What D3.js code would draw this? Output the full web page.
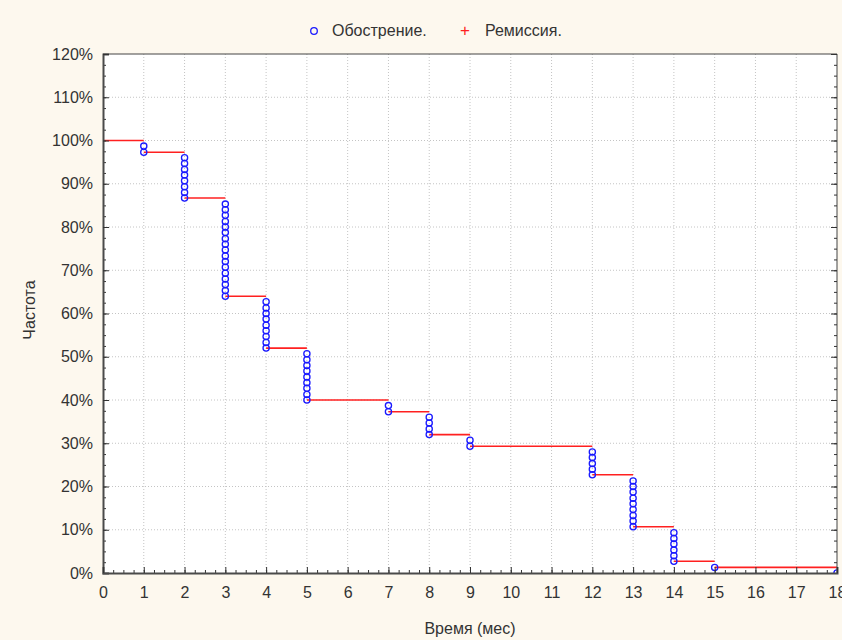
<!DOCTYPE html>
<html lang="ru">
<head>
<meta charset="UTF-8">
<title>Частота</title>
<script src="https://d3js.org/d3.v7.min.js"></script>
<style>
  body { margin: 0; background: #fdf8ee; }
  svg { display: block; font-family: "Liberation Sans", Arial, sans-serif; }
  .grid line { stroke: #c4c4c4; stroke-dasharray: 1,2; }
  .axis text { font-size: 16px; fill: #333; }
  .axis line { stroke: #333; }
</style>
</head>
<body>
<svg id="chart" width="842" height="640"></svg>
<script>
// step levels of the curve (%), the level holds from t to the next t
var stepTimes  = [0, 1, 2, 3, 4, 5, 7, 8, 9, 12, 13, 14, 15, 18]
var stepLevels = [100, 97.3, 86.7, 64.0, 52.0, 40.0, 37.3, 32.0, 29.3, 22.7, 10.7, 2.7, 1.3, 1.3]

// "Обострение." points, one circle each, grouped by time
var eventTimes = [1, 2, 3, 4, 5, 7, 8, 9, 12, 13, 14, 15, 18]
var eventValues = [
  [98.7, 97.3],
  [96.0, 94.7, 93.3, 92.0, 90.7, 89.3, 88.0, 86.7],
  [85.3, 84.0, 82.7, 81.3, 80.0, 78.7, 77.3, 76.0, 74.7, 73.3, 72.0, 70.7, 69.3, 68.0, 66.7, 65.3, 64.0],
  [62.7, 61.3, 60.0, 58.7, 57.3, 56.0, 54.7, 53.3, 52.0],
  [50.7, 49.3, 48.0, 46.7, 45.3, 44.0, 42.7, 41.3, 40.0],
  [38.7, 37.3],
  [36.0, 34.7, 33.3, 32.0],
  [30.7, 29.3],
  [28.0, 26.7, 25.3, 24.0, 22.7],
  [21.3, 20.0, 18.7, 17.3, 16.0, 14.7, 13.3, 12.0, 10.7],
  [9.3, 8.0, 6.7, 5.3, 4.0, 2.7],
  [1.3],
  [0]
]

var xTicks = d3.range(0, 19)
var yTicks = d3.range(0, 121, 10)
var legendLabels = ["Обострение.", "Ремиссия."]

var svg = d3.select("#chart")
var mLeft = 103, mTop = 54, w = 734, h = 519

var x = d3.scaleLinear().domain([0, 18]).range([0, w])
var y = d3.scaleLinear().domain([0, 120]).range([h, 0])

var g = svg.append("g").attr("transform", "translate(" + mLeft + "," + mTop + ")")

g.append("rect").attr("width", w).attr("height", h).attr("fill", "#fff")

// grid
var grid = g.append("g").attr("class", "grid")
grid.selectAll(".gx").data(xTicks.slice(1, -1)).enter().append("line")
    .attr("x1", d => x(d)).attr("x2", d => x(d)).attr("y1", 0).attr("y2", h)
grid.selectAll(".gy").data(yTicks.slice(1, -1)).enter().append("line")
    .attr("y1", d => y(d)).attr("y2", d => y(d)).attr("x1", 0).attr("x2", w)

// clip for marks
g.append("clipPath").attr("id", "clip").append("rect").attr("width", w).attr("height", h)
var plot = g.append("g").attr("clip-path", "url(#clip)")

// red step segments (horizontal only)
var segs = stepTimes.slice(0, -1).map((t, i) => [t, stepTimes[i + 1], stepLevels[i]])
plot.selectAll(".seg").data(segs).enter().append("line")
    .attr("x1", d => x(d[0])).attr("x2", d => x(d[1]))
    .attr("y1", d => y(d[2])).attr("y2", d => y(d[2]))
    .attr("stroke", "#ff2020").attr("stroke-width", 1.6)

// circles
var pts = []
eventTimes.forEach((t, i) => eventValues[i].forEach(v => pts.push([t, v])))
plot.selectAll("circle").data(pts).enter().append("circle")
    .attr("cx", d => x(d[0])).attr("cy", d => y(d[1])).attr("r", 3.1)
    .attr("fill", "none").attr("stroke", "#1a1aff").attr("stroke-width", 1.3)

// frame top/right
g.append("line").attr("x1", 0).attr("x2", w).attr("y1", 0).attr("y2", 0).attr("stroke", "#444")
g.append("line").attr("x1", w).attr("x2", w).attr("y1", 0).attr("y2", h).attr("stroke", "#444")

// minor ticks
var minorY = d3.range(0, 120.1, 2.5)
var minorX = d3.range(0, 18.01, 0.25)
g.append("g").attr("class", "axis")
    .call(d3.axisLeft(y).tickValues(minorY).tickSize(-3).tickFormat(""))
    .select(".domain").remove()
g.append("g").attr("class", "axis").attr("transform", "translate(" + w + ",0)")
    .call(d3.axisRight(y).tickValues(minorY).tickSize(-3).tickFormat(""))
    .select(".domain").remove()
g.append("g").attr("class", "axis").attr("transform", "translate(0," + h + ")")
    .call(d3.axisBottom(x).tickValues(minorX).tickSize(-3).tickFormat(""))
    .select(".domain").remove()

// major axes
var ax = g.append("g").attr("class", "axis")
    .call(d3.axisLeft(y).tickValues(yTicks).tickSize(-6).tickPadding(10).tickFormat(d => d + "%"))
ax.select(".domain").attr("stroke", "#4a4a4a").attr("stroke-width", 2)
g.append("g").attr("class", "axis").attr("transform", "translate(" + w + ",0)")
    .call(d3.axisRight(y).tickValues(yTicks).tickSize(-6).tickFormat(""))
    .select(".domain").remove()
var bx = g.append("g").attr("class", "axis").attr("transform", "translate(0," + h + ")")
    .call(d3.axisBottom(x).tickValues(xTicks).tickSize(-6).tickPadding(11))
bx.select(".domain").attr("stroke", "#4a4a4a").attr("stroke-width", 2)
bx.selectAll("text").attr("dy", "0.9em")

// axis titles
svg.append("text").attr("x", 470).attr("y", 634).attr("text-anchor", "middle")
    .attr("font-size", 16).attr("fill", "#333").text("Время (мес)")
svg.append("text").attr("transform", "translate(35,310) rotate(-90)").attr("text-anchor", "middle")
    .attr("font-size", 16).attr("fill", "#333").text("Частота")

// legend
var lg = svg.append("g")
lg.append("circle").attr("cx", 314).attr("cy", 31).attr("r", 3.3)
    .attr("fill", "none").attr("stroke", "#1a1aff").attr("stroke-width", 1.3)
lg.append("text").attr("x", 332).attr("y", 36).attr("font-size", 16).attr("fill", "#333").text(legendLabels[0])
lg.append("text").attr("x", 465).attr("y", 36).attr("text-anchor", "middle")
    .attr("font-size", 17).attr("fill", "#ff2020").text("+")
lg.append("text").attr("x", 485).attr("y", 36).attr("font-size", 16).attr("fill", "#333").text(legendLabels[1])
</script>
</body>
</html>
